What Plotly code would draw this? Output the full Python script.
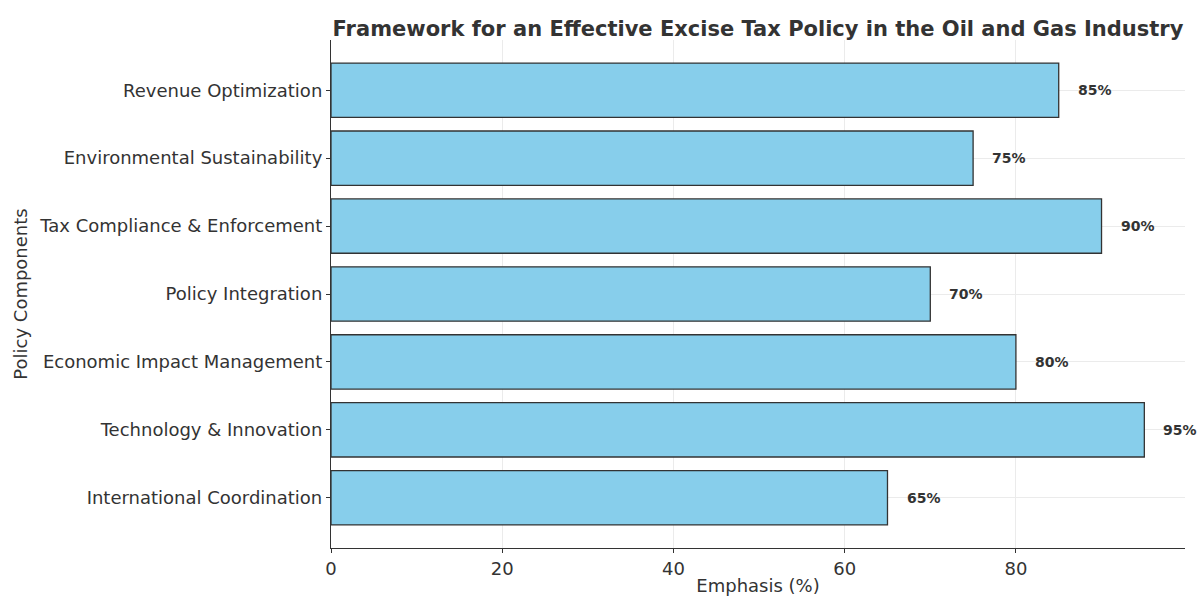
import plotly.graph_objects as go

# Policy components (top to bottom) and their emphasis in percent
components = [
    "Revenue Optimization",
    "Environmental Sustainability",
    "Tax Compliance & Enforcement",
    "Policy Integration",
    "Economic Impact Management",
    "Technology & Innovation",
    "International Coordination",
]
emphasis = [85, 75, 90, 70, 80, 95, 65]
x_ticks = [0, 20, 40, 60, 80]

FONT = "DejaVu Sans"
DARK = "#333333"

fig = go.Figure()
fig.add_trace(
    go.Bar(
        x=emphasis,
        y=components,
        orientation="h",
        width=0.8,
        marker=dict(color="#87CEEB", line=dict(color=DARK, width=1.3)),
        hoverinfo="x+y",
    )
)

# Value labels just right of each bar end
for comp, val in zip(components, emphasis):
    fig.add_annotation(
        x=val + 2,
        y=comp,
        text=f"<b>{val}%</b>",
        showarrow=False,
        xanchor="left",
        yanchor="middle",
        font=dict(family=FONT, size=14, color=DARK),
    )

fig.update_layout(
    width=1203,
    height=596,
    margin=dict(l=331, r=18, t=40, b=48, autoexpand=False),
    paper_bgcolor="white",
    plot_bgcolor="white",
    showlegend=False,
    bargap=0.2,
    title=dict(
        text="<b>Framework for an Effective Excise Tax Policy in the Oil and Gas Industry</b>",
        font=dict(family=FONT, size=21, color=DARK),
        x=(331 + 1185) / 2 / 1203,
        xanchor="center",
        y=1 - 29 / 596,
        yanchor="middle",
    ),
    xaxis=dict(
        range=[0, 99.75],
        tickvals=x_ticks,
        ticktext=[str(t) for t in x_ticks],
        showgrid=True,
        gridcolor="#ebebeb",
        gridwidth=1,
        zeroline=False,
        showline=True,
        linecolor=DARK,
        linewidth=1.2,
        ticks="outside",
        ticklen=4,
        tickcolor=DARK,
        automargin=False,
        tickfont=dict(family=FONT, size=18, color=DARK),
        title=dict(text="Emphasis (%)", font=dict(family=FONT, size=18, color=DARK), standoff=2),
    ),
    yaxis=dict(
        type="category",
        categoryorder="array",
        categoryarray=components,
        range=[6.74, -0.74],
        showgrid=True,
        gridcolor="#ebebeb",
        gridwidth=1,
        zeroline=False,
        showline=True,
        linecolor=DARK,
        linewidth=1.2,
        ticks="outside",
        ticklen=4,
        tickcolor=DARK,
        automargin=False,
        tickfont=dict(family=FONT, size=18, color=DARK),
        title=dict(text="Policy Components", font=dict(family=FONT, size=18, color=DARK), standoff=6),
    ),
)

fig.write_html("out.html")
